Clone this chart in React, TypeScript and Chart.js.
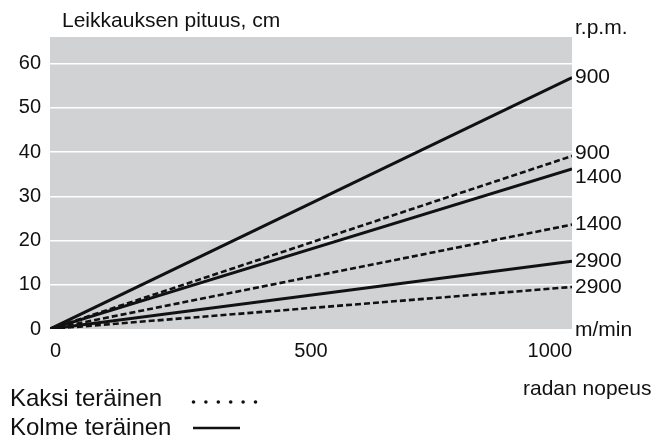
import { useEffect, useRef } from 'react';
import { Chart, registerables } from 'chart.js';

Chart.register(...registerables);

const FONT = '"Liberation Sans", Arial, sans-serif';
const INK = '#111111';

// speed, m/min
const speeds = [0, 1000];
// cut length, cm (two-blade = dashed, three-blade = solid)
const kaksi900 = [0, 39.1];
const kaksi1400 = [0, 23.6];
const kaksi2900 = [0, 9.5];
const kolme900 = [0, 56.8];
const kolme1400 = [0, 36.2];
const kolme2900 = [0, 15.3];

const rpmLabels = ['900', '900', '1400', '1400', '2900', '2900'];
const rpmLabelValues = [56.8, 39.7, 34.3, 23.7, 15.3, 9.5];

const xTicks = [0, 500, 1000];
const yTicks = [0, 10, 20, 30, 40, 50, 60];

const toPoints = (ys: number[]) => ys.map((y, i) => ({ x: speeds[i], y }));

export default function App() {
  const ref = useRef<HTMLCanvasElement | null>(null);

  useEffect(() => {
    document.body.style.margin = '0';
    const canvas = ref.current;
    if (!canvas) return;

    const bgPlugin = {
      id: 'bg',
      beforeDraw(chart: any) {
        const { ctx, chartArea: a } = chart;
        ctx.save();
        ctx.fillStyle = '#d1d2d4';
        ctx.fillRect(a.left, a.top, a.right - a.left, a.bottom - a.top);
        ctx.restore();
      },
    };

    const textPlugin = {
      id: 'texts',
      afterDraw(chart: any) {
        const { ctx, chartArea: a } = chart;
        const y = chart.scales.y;
        ctx.save();
        ctx.fillStyle = INK;
        ctx.font = `21px ${FONT}`;
        ctx.textBaseline = 'middle';
        ctx.textAlign = 'left';
        rpmLabels.forEach((t, i) => {
          ctx.fillText(t, a.right + 3, y.getPixelForValue(rpmLabelValues[i]));
        });
        ctx.fillText('r.p.m.', a.right + 3, 28);
        ctx.fillText('m/min', a.right + 3, a.bottom + 1);
        ctx.fillText('Leikkauksen pituus, cm', 62, 21);
        ctx.fillText('radan nopeus', 523, 389);
        ctx.font = `24px ${FONT}`;
        ctx.fillText('Kaksi teräinen', 10, 399);
        ctx.fillText('Kolme teräinen', 10, 428);
        // legend samples
        for (let i = 0; i < 6; i++) {
          ctx.beginPath();
          ctx.arc(193.5 + i * 12.4, 402, 1.8, 0, Math.PI * 2);
          ctx.fill();
        }
        ctx.strokeStyle = INK;
        ctx.lineWidth = 2.5;
        ctx.beginPath();
        ctx.moveTo(193, 428);
        ctx.lineTo(240, 428);
        ctx.stroke();
        ctx.restore();
      },
    };

    const dashed = { borderDash: [6, 3], borderWidth: 2.6 };
    const solid = { borderWidth: 3 };
    const common = { borderColor: INK, pointRadius: 0, fill: false, tension: 0 };

    const chart = new Chart(canvas, {
      type: 'line',
      data: {
        datasets: [
          { label: 'Kolme 900', data: toPoints(kolme900), ...common, ...solid },
          { label: 'Kaksi 900', data: toPoints(kaksi900), ...common, ...dashed },
          { label: 'Kolme 1400', data: toPoints(kolme1400), ...common, ...solid },
          { label: 'Kaksi 1400', data: toPoints(kaksi1400), ...common, ...dashed },
          { label: 'Kolme 2900', data: toPoints(kolme2900), ...common, ...solid },
          { label: 'Kaksi 2900', data: toPoints(kaksi2900), ...common, ...dashed },
        ],
      },
      options: {
        responsive: false,
        animation: false,
        devicePixelRatio: 1,
        layout: { padding: { top: 37, right: 97, left: 0, bottom: 0 } },
        plugins: { legend: { display: false }, tooltip: { enabled: false } },
        scales: {
          x: {
            type: 'linear',
            min: 0,
            max: 1000,
            afterBuildTicks: (s: any) => {
              s.ticks = xTicks.map((v) => ({ value: v }));
            },
            ticks: {
              font: { family: FONT, size: 20 },
              color: INK,
              padding: 10,
              align: 'inner',
              maxRotation: 0,
              callback: (v: any) => String(v),
            },
            grid: { display: false, drawTicks: false },
            border: { display: false },
            afterFit: (s: any) => {
              s.height = 112;
            },
          },
          y: {
            min: 0,
            max: 66,
            afterBuildTicks: (s: any) => {
              s.ticks = yTicks.map((v) => ({ value: v }));
            },
            ticks: { font: { family: FONT, size: 20 }, color: INK, padding: 9, callback: (v: any) => String(v) },
            grid: {
              color: (c: any) => (c.tick && c.tick.value === 0 ? 'rgba(0,0,0,0)' : '#ffffff'),
              lineWidth: 1.5,
              drawTicks: false,
            },
            border: { display: false },
            afterFit: (s: any) => {
              s.width = 50;
            },
          },
        },
      },
      plugins: [bgPlugin, textPlugin],
    } as any);

    return () => chart.destroy();
  }, []);

  return (
    <div style={{ position: 'absolute', left: 0, top: 0, width: 669, height: 441 }}>
      <canvas ref={ref} width={669} height={441} style={{ display: 'block' }} />
    </div>
  );
}
